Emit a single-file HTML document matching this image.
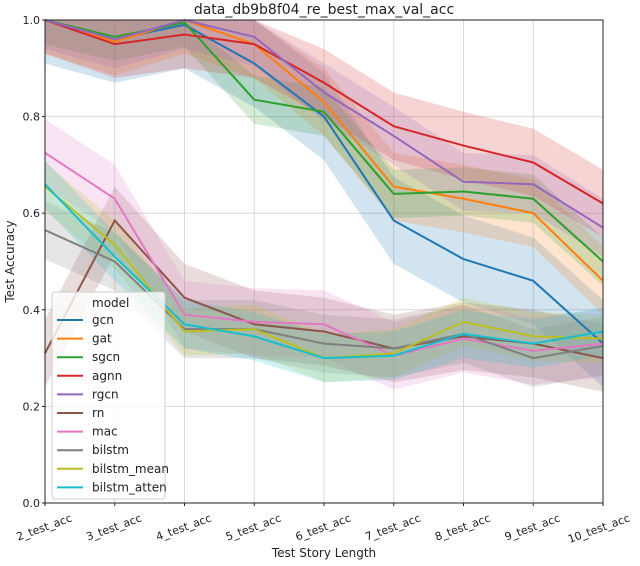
<!DOCTYPE html>
<html><head><meta charset="utf-8"><style>
body{margin:0;background:#fff;font-family:"Liberation Sans","DejaVu Sans",sans-serif}
svg text{font-family:"DejaVu Sans","Liberation Sans",sans-serif;fill:#222}
</style></head><body>
<svg id="c" width="640" height="561" xmlns="http://www.w3.org/2000/svg"></svg>
<script>
const categories=["2_test_acc","3_test_acc","4_test_acc","5_test_acc","6_test_acc","7_test_acc","8_test_acc","9_test_acc","10_test_acc"];
const seriesNames=["gcn","gat","sgcn","agnn","rgcn","rn","mac","bilstm","bilstm_mean","bilstm_atten"];
const colors=["#1f77b4","#ff7f0e","#2ca02c","#d62728","#9467bd","#8c564b","#e377c2","#7f7f7f","#bcbd22","#17becf"];
const gcn=[1.0,0.96,0.99,0.91,0.80,0.585,0.505,0.46,0.33];
const gat=[1.0,0.955,1.0,0.95,0.83,0.655,0.63,0.60,0.46];
const sgcn=[1.0,0.965,0.995,0.835,0.81,0.64,0.645,0.63,0.50];
const agnn=[1.0,0.95,0.97,0.95,0.87,0.78,0.74,0.705,0.62];
const rgcn=[1.0,0.96,1.0,0.965,0.85,0.76,0.665,0.66,0.57];
const rn=[0.31,0.585,0.425,0.37,0.355,0.32,0.345,0.33,0.30];
const mac=[0.725,0.63,0.39,0.375,0.37,0.305,0.34,0.315,0.33];
const bilstm=[0.565,0.50,0.36,0.36,0.33,0.32,0.35,0.30,0.325];
const bilstm_mean=[0.655,0.535,0.355,0.36,0.30,0.31,0.375,0.345,0.34];
const bilstm_atten=[0.66,0.51,0.37,0.345,0.30,0.305,0.35,0.33,0.355];
const bandHalf=[0.09,0.07,0.05,0.07,0.06,0.07,0.07,0.06,0.05,0.05];
const yTicks=[0.0,0.2,0.4,0.6,0.8,1.0];
const seriesData=[gcn,gat,sgcn,agnn,rgcn,rn,mac,bilstm,bilstm_mean,bilstm_atten];

const L=45,R=603,T=20,B=503;
const xs=i=>L+(R-L)*i/(categories.length-1);
const ys=v=>B-(B-T)*v;
const svg=document.getElementById('c');
const NS="http://www.w3.org/2000/svg";
function mk(tag,attrs,parent){const e=document.createElementNS(NS,tag);for(const k in attrs)e.setAttribute(k,attrs[k]);(parent||svg).appendChild(e);return e;}

yTicks.forEach(v=>{const g=mk('line',{x1:L,x2:R,y1:ys(v),y2:ys(v),stroke:'#d9d9d9','stroke-width':1});


const t=mk('text',{x:L-5,y:ys(v)+4,'text-anchor':'end','font-size':11});t.textContent=v.toFixed(1);


mk('line',{x1:L-3,x2:L,y1:ys(v),y2:ys(v),stroke:'#222'});});
categories.forEach((c,i)=>{const g=mk('line',{x1:xs(i),x2:xs(i),y1:T,y2:B,stroke:'#d9d9d9','stroke-width':1});


mk('line',{x1:xs(i),x2:xs(i),y1:B,y2:B+3,stroke:'#222'});
const t=mk('text',{x:xs(i)+28,y:B+20,'text-anchor':'end','font-size':11,transform:`rotate(-20 ${xs(i)+22} ${B+20})`});t.textContent=c;

});

seriesData.forEach((d,s)=>{const h=bandHalf[s];
let p=d.map((v,i)=>`${xs(i)},${ys(Math.min(1,v+h))}`).concat(d.slice().reverse().map((v,j)=>`${xs(d.length-1-j)},${ys(v-h)}`));
const b=mk('polygon',{points:p.join(' '),fill:colors[s],'fill-opacity':0.2});

});
seriesData.forEach((d,s)=>{const l=mk('polyline',{points:d.map((v,i)=>`${xs(i)},${ys(v)}`).join(' '),fill:'none',stroke:colors[s],'stroke-width':2});

});

const fr=mk('rect',{x:L,y:T,width:R-L,height:B-T,fill:'none',stroke:'#222','stroke-width':1});



const ti=mk('text',{x:(L+R)/2,y:14,'text-anchor':'middle','font-size':14});ti.textContent='data_db9b8f04_re_best_max_val_acc';


const xt=mk('text',{x:(L+R)/2,y:557,'text-anchor':'middle','font-size':12});xt.textContent='Test Story Length';


const yt=mk('text',{x:14,y:(T+B)/2,'text-anchor':'middle','font-size':12,transform:`rotate(-90 14 ${(T+B)/2})`});yt.textContent='Test Accuracy';



const lg=mk('g',{});


mk('rect',{x:52,y:292,width:113,height:207,fill:'#fff','fill-opacity':0.8,stroke:'#ccc',rx:3},lg);
const lt=mk('text',{x:92,y:307,'font-size':12},lg);lt.textContent='model';
seriesNames.forEach((n,s)=>{const y=320+s*18.6;
const e=mk('g',{},lg);


mk('line',{x1:57,x2:83,y1:y,y2:y,stroke:colors[s],'stroke-width':2},e);
const t=mk('text',{x:92,y:y+4,'font-size':12},e);t.textContent=n;});
</script>
</body></html>
